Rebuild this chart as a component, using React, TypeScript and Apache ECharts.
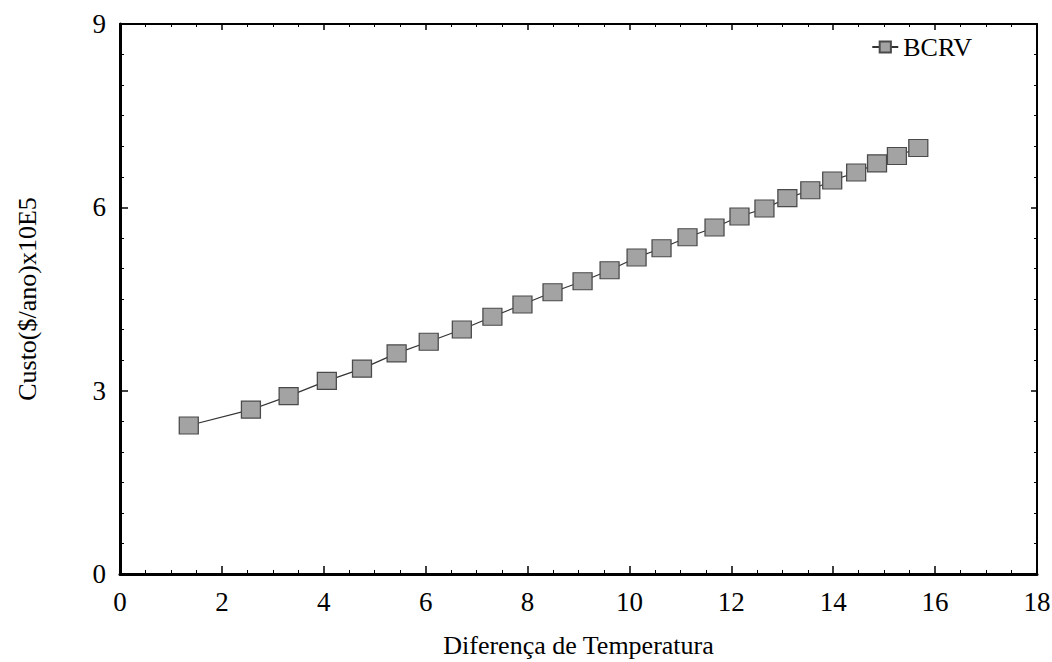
import React, { useEffect, useRef } from "react";
import * as echarts from "echarts";

// Temperature difference (x) and annual cost ($/ano x 10E5) for the BCRV series
const deltaT: number[] = [
  1.35, 2.57, 3.31, 4.06, 4.75, 5.43, 6.06, 6.71, 7.31, 7.9, 8.49, 9.08, 9.61,
  10.14, 10.63, 11.14, 11.67, 12.16, 12.65, 13.1, 13.55, 13.98, 14.45, 14.86,
  15.25, 15.67,
];
const custo: number[] = [
  2.43, 2.69, 2.91, 3.16, 3.36, 3.61, 3.8, 4.0, 4.21, 4.41, 4.61, 4.79, 4.97,
  5.18, 5.33, 5.51, 5.67, 5.85, 5.98, 6.15, 6.28, 6.44, 6.57, 6.72, 6.84, 6.97,
];
const seriesName = "BCRV";
const xTitle = "Diferença de Temperatura";
const yTitle = "Custo($/ano)x10E5";

const FONT = "Liberation Serif";

export default function App() {
  const ref = useRef<HTMLDivElement>(null);

  useEffect(() => {
    if (!ref.current) return;
    const chart = echarts.init(ref.current, undefined, { renderer: "svg" });

    const tickStyle = { color: "#000", width: 1.5 };
    const sideAxis = {
      axisLine: { show: true, onZero: false, lineStyle: { color: "#000", width: 2 } },
      axisTick: { show: true, inside: true, length: 6, lineStyle: tickStyle },
      axisLabel: { show: false },
      splitLine: { show: false },
    };

    chart.setOption({
      animation: false,
      backgroundColor: "#fff",
      textStyle: { fontFamily: FONT, color: "#000" },
      grid: { left: 120, right: 15, top: 24, bottom: 88, outerBoundsMode: "none", containLabel: false },
      legend: {
        data: [seriesName],
        right: 75,
        top: 29,
        itemWidth: 26,
        itemHeight: 14,
        itemGap: 4,
        textStyle: { fontFamily: FONT, fontSize: 26, color: "#000" },
      },
      xAxis: [
        {
          type: "value",
          min: 0,
          max: 18,
          interval: 2,
          name: xTitle,
          nameLocation: "middle",
          nameGap: 58,
          nameTextStyle: { fontFamily: FONT, fontSize: 26, color: "#000" },
          axisLine: { show: true, onZero: false, lineStyle: { color: "#000", width: 3 } },
          axisTick: { show: true, inside: true, length: 8, lineStyle: tickStyle },
          minorTick: { show: true, splitNumber: 4, length: 4, lineStyle: { color: "#000", width: 1 } },
          axisLabel: { fontFamily: FONT, fontSize: 27, color: "#000", margin: 14 },
          splitLine: { show: false },
        },
        {
          type: "value",
          position: "top",
          min: 0,
          max: 18,
          interval: 2,
          ...sideAxis,
          minorTick: { show: true, splitNumber: 4, length: 3, lineStyle: { color: "#000", width: 1 } },
        },
      ],
      yAxis: [
        {
          type: "value",
          min: 0,
          max: 9,
          interval: 3,
          name: yTitle,
          nameLocation: "middle",
          nameGap: 80,
          nameTextStyle: { fontFamily: FONT, fontSize: 26, color: "#000" },
          axisLine: { show: true, onZero: false, lineStyle: { color: "#000", width: 3 } },
          axisTick: { show: true, inside: true, length: 8, lineStyle: tickStyle },
          minorTick: { show: true, splitNumber: 6, length: 4, lineStyle: { color: "#000", width: 1 } },
          axisLabel: { fontFamily: FONT, fontSize: 27, color: "#000", margin: 14 },
          splitLine: { show: false },
        },
        {
          type: "value",
          position: "right",
          min: 0,
          max: 9,
          interval: 3,
          ...sideAxis,
          minorTick: { show: true, splitNumber: 6, length: 3, lineStyle: { color: "#000", width: 1 } },
        },
      ],
      series: [
        {
          name: seriesName,
          type: "line",
          data: deltaT.map((x, i) => [x, custo[i]]),
          symbol: "rect",
          symbolSize: [19, 17],
          lineStyle: { color: "#333", width: 1.2 },
          itemStyle: { color: "#a3a3a3", borderColor: "#4a4a4a", borderWidth: 1.2 },
        },
      ],
    });

    return () => chart.dispose();
  }, []);

  return (
    <div
      ref={ref}
      style={{ position: "fixed", left: 0, top: 0, width: 1052, height: 662 }}
    />
  );
}
